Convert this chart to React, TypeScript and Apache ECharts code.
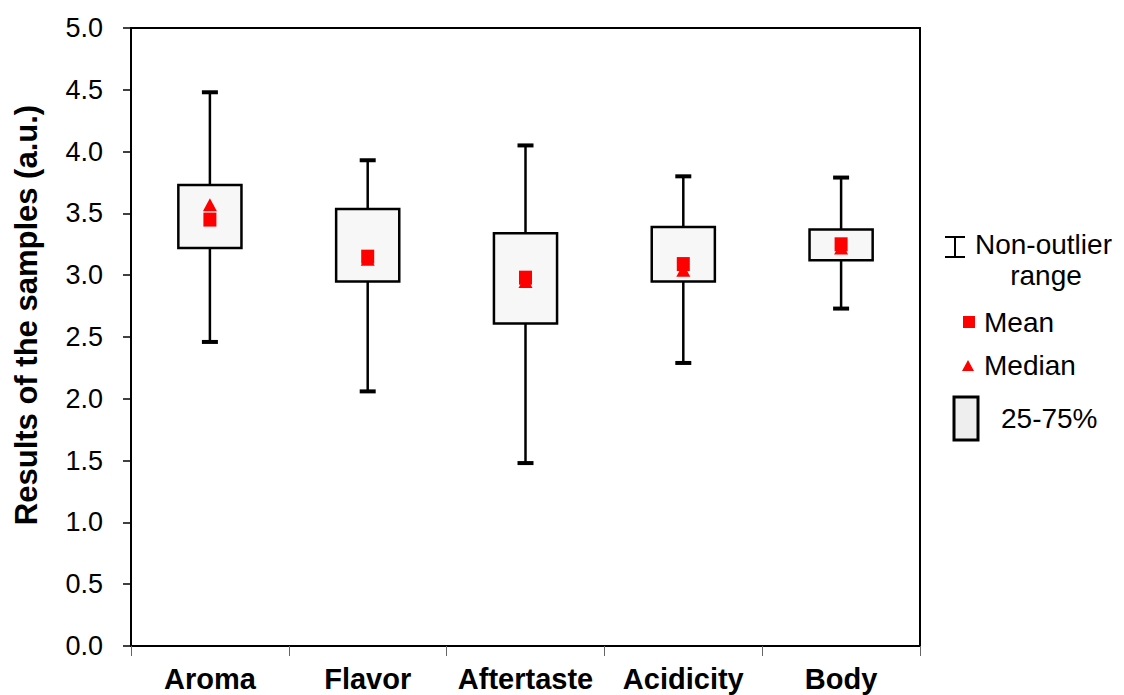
import React, { useEffect, useRef } from "react";
import * as echarts from "echarts";

const categories = ["Aroma", "Flavor", "Aftertaste", "Acidicity", "Body"];
const whiskerLow = [2.46, 2.06, 1.48, 2.29, 2.73];
const q1 = [3.22, 2.95, 2.61, 2.95, 3.12];
const q3 = [3.73, 3.535, 3.34, 3.39, 3.37];
const whiskerHigh = [4.48, 3.93, 4.05, 3.8, 3.79];
const means = [3.45, 3.15, 2.98, 3.09, 3.25];
const medians = [3.57, 3.13, 2.95, 3.04, 3.22];
const yTicks = [0, 0.5, 1, 1.5, 2, 2.5, 3, 3.5, 4, 4.5, 5];
const yTitle = "Results of the samples (a.u.)";

const FONT = "'Liberation Sans', Arial, sans-serif";

export default function App() {
  const ref = useRef<HTMLDivElement>(null);
  useEffect(() => {
    if (!ref.current) return;
    const chart = echarts.init(ref.current, null, { renderer: "svg" });
    const boxData = categories.map((_, i) => [i, whiskerLow[i], q1[i], q3[i], whiskerHigh[i]]);
    const option: any = {
      animation: false,
      backgroundColor: "#ffffff",
      grid: {
        left: 131,
        right: 204,
        top: 28,
        bottom: 49,
        show: true,
        borderColor: "#000",
        borderWidth: 2,
        backgroundColor: "#ffffff",
      },
      xAxis: {
        type: "category",
        data: categories,
        boundaryGap: true,
        axisLine: { lineStyle: { color: "#000", width: 2 } },
        axisTick: { show: true, length: 10, lineStyle: { color: "#666", width: 1 } },
        axisLabel: {
          color: "#000",
          fontFamily: FONT,
          fontWeight: "bold",
          fontSize: 29,
          margin: 18,
          interval: 0,
          hideOverlap: false,
        },
        splitLine: { show: false },
      },
      yAxis: {
        type: "value",
        min: yTicks[0],
        max: yTicks[yTicks.length - 1],
        interval: 0.5,
        axisLine: { show: true, lineStyle: { color: "#000", width: 2 } },
        axisTick: { show: true, length: 8, lineStyle: { color: "#000", width: 1.5 } },
        axisLabel: {
          color: "#000",
          fontFamily: FONT,
          fontSize: 27,
          margin: 28,
          formatter: (v: number) => v.toFixed(1),
        },
        splitLine: { show: false },
      },
      series: [
        {
          type: "custom",
          data: boxData,
          z: 2,
          renderItem: (params: any, api: any) => {
            const idx = api.value(0);
            const pLow = api.coord([idx, api.value(1)]);
            const pQ1 = api.coord([idx, api.value(2)]);
            const pQ3 = api.coord([idx, api.value(3)]);
            const pHigh = api.coord([idx, api.value(4)]);
            const band = api.size([1, 0])[0];
            const bw = band * 0.4;
            const cap = 16;
            const x = pLow[0];
            const ls = { stroke: "#000", lineWidth: 2.5 };
            return {
              type: "group",
              children: [
                { type: "line", shape: { x1: x, y1: pLow[1], x2: x, y2: pQ1[1] }, style: ls },
                { type: "line", shape: { x1: x, y1: pQ3[1], x2: x, y2: pHigh[1] }, style: ls },
                { type: "line", shape: { x1: x - cap / 2, y1: pLow[1], x2: x + cap / 2, y2: pLow[1] }, style: { stroke: "#000", lineWidth: 4 } },
                { type: "line", shape: { x1: x - cap / 2, y1: pHigh[1], x2: x + cap / 2, y2: pHigh[1] }, style: { stroke: "#000", lineWidth: 4 } },
                {
                  type: "rect",
                  shape: { x: x - bw / 2, y: pQ3[1], width: bw, height: pQ1[1] - pQ3[1] },
                  style: { fill: "#f7f7f7", stroke: "#000", lineWidth: 2.5 },
                },
              ],
            };
          },
        },
        {
          type: "scatter",
          name: "Median",
          data: categories.map((_, i) => [i, medians[i]]),
          symbol: "triangle",
          symbolSize: [14, 13],
          itemStyle: { color: "#ff0000", opacity: 1 },
          z: 3,
        },
        {
          type: "scatter",
          name: "Mean",
          data: categories.map((_, i) => [i, means[i]]),
          symbol: "rect",
          symbolSize: [13, 14],
          itemStyle: { color: "#ff0000", opacity: 1 },
          z: 4,
        },
      ],
      graphic: [
        {
          type: "text",
          x: 26,
          y: 315,
          rotation: Math.PI / 2,
          style: {
            text: yTitle,
            fill: "#000",
            font: `bold 31px ${FONT}`,
            align: "center",
            verticalAlign: "middle",
          },
        },
        { type: "line", shape: { x1: 955, y1: 237, x2: 955, y2: 257 }, style: { stroke: "#000", lineWidth: 2 } },
        { type: "line", shape: { x1: 945, y1: 237, x2: 965, y2: 237 }, style: { stroke: "#000", lineWidth: 2 } },
        { type: "line", shape: { x1: 945, y1: 257, x2: 965, y2: 257 }, style: { stroke: "#000", lineWidth: 2 } },
        { type: "text", x: 975, y: 244, style: { text: "Non-outlier", fill: "#000", font: `28px ${FONT}`, verticalAlign: "middle" } },
        { type: "text", x: 1046, y: 275, style: { text: "range", fill: "#000", font: `28px ${FONT}`, align: "center", verticalAlign: "middle" } },
        { type: "rect", shape: { x: 963, y: 316, width: 12, height: 12 }, style: { fill: "#ff0000" } },
        { type: "text", x: 984, y: 322, style: { text: "Mean", fill: "#000", font: `28px ${FONT}`, verticalAlign: "middle" } },
        { type: "polygon", shape: { points: [[968, 360], [974, 371], [962, 371]] }, style: { fill: "#ff0000" } },
        { type: "text", x: 984, y: 365, style: { text: "Median", fill: "#000", font: `28px ${FONT}`, verticalAlign: "middle" } },
        { type: "rect", shape: { x: 954, y: 397, width: 24, height: 43 }, style: { fill: "#eeeeee", stroke: "#000", lineWidth: 3 } },
        { type: "text", x: 1001, y: 418, style: { text: "25-75%", fill: "#000", font: `28px ${FONT}`, verticalAlign: "middle" } },
      ],
    };
    chart.setOption(option);
    return () => chart.dispose();
  }, []);
  return (
    <div
      ref={ref}
      style={{ position: "fixed", left: 0, top: 0, width: 1124, height: 695, background: "#fff" }}
    />
  );
}
